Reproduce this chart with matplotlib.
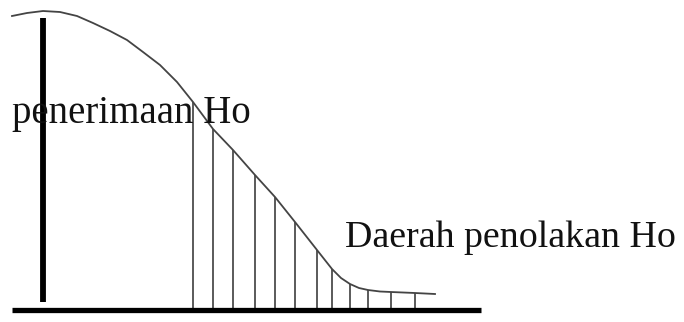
import matplotlib
matplotlib.use("Agg")
import matplotlib.pyplot as plt

# curve of the distribution (x position, height above the baseline)
curve_x = [12, 27, 43, 60, 77, 93, 110, 127, 143, 160, 177, 193, 213, 233, 255, 275, 295, 317, 332, 341, 350, 359, 368, 380, 391, 415, 435]
curve_h = [294, 297, 299, 298, 294, 287, 279, 270, 258, 245, 228, 208, 181, 160, 135, 113, 88, 60, 41, 32, 26, 22, 20, 18.5, 18, 17, 16]

# vertical hatch lines of the rejection region
hatch_x = [193, 213, 233, 255, 275, 295, 317, 332, 350, 368, 391, 415]
hatch_h = [208, 181, 160, 135, 113, 88, 60, 41, 26, 20, 18, 17]

# thick line at the mean and the baseline
mean_x = 43
mean_h = 292
base_x = [12, 481]

label_accept = "penerimaan Ho"
label_reject = "Daerah penolakan Ho"

fig = plt.figure(figsize=(6.84, 3.22), dpi=100)
ax = fig.add_axes([0, 0, 1, 1])
ax.set_xlim(0, 684)
ax.set_ylim(-12, 310)
ax.axis("off")

#hatch lines first so the curve sits on top
ax.vlines(hatch_x, 0, hatch_h, colors="#4d4d4d", linewidth=1.3)
ax.plot(curve_x, curve_h, color="#444444", linewidth=1.3, solid_joinstyle="round")

#thick line and base
ax.vlines([mean_x], 8, mean_h, colors="black", linewidth=4.2)
ax.plot(base_x, [0, 0], color="black", linewidth=3.8, solid_capstyle="butt")

ax.text(12, 310 - 123, label_accept, fontsize=28, family="Liberation Serif",
        color="#111111", ha="left", va="baseline")
ax.text(345, 310 - 247, label_reject, fontsize=27.3, family="Liberation Serif",
        color="#111111", ha="left", va="baseline")

fig.savefig("out.png", dpi=100)
